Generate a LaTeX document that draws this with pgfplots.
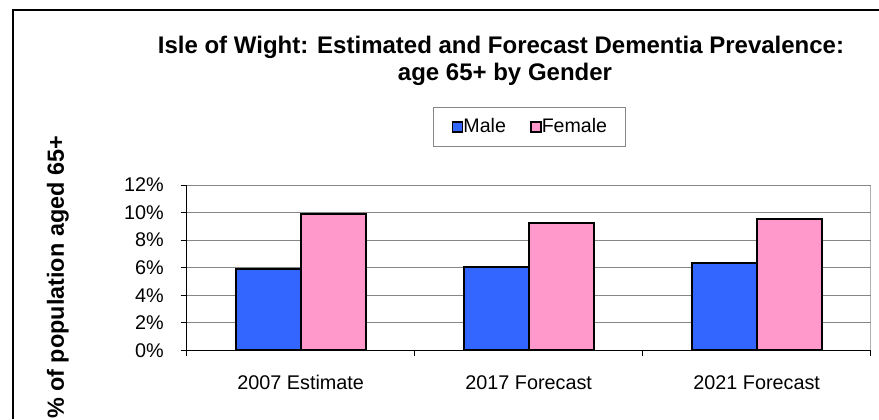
\documentclass[border=0pt]{standalone}
\usepackage{fontspec}
\setmainfont{Liberation Sans}
\usepackage{pgfplots}
\pgfplotsset{compat=1.18}
\definecolor{maleblue}{RGB}{51,102,255}
\definecolor{femalepink}{RGB}{255,153,204}
\definecolor{gridgray}{RGB}{134,134,134}

\begin{document}
\begin{tikzpicture}
\useasboundingbox (0,0) rectangle (439.5pt,209.5pt);
% outer frame (only top and left are visible)
\draw[line width=1pt] (6.35pt,0) -- (6.35pt,204.5pt) -- (439.5pt,204.5pt);

\begin{axis}[
    at={(93.35pt,34.35pt)}, anchor=south west,
    scale only axis, width=342pt, height=82.65pt,
    ybar=0pt, bar width=32.5pt,
    xmin=-0.5, xmax=2.5, ymin=0, ymax=12,
    xtick={-0.5,0.5,1.5,2.5}, xticklabels={},
    extra x ticks={0,1,2},
    extra x tick labels={2007 Estimate,2017 Forecast,2021 Forecast},
    extra x tick style={tick style={draw=none},
        xticklabel style={yshift=-6pt}},
    ytick={0,2,4,6,8,10,12},
    yticklabels={0\%,2\%,4\%,6\%,8\%,10\%,12\%},
    yticklabel style={xshift=-5pt},
    ymajorgrids, grid style={gridgray, line width=0.5pt},
    tick align=outside, major tick length=3pt,
    tick style={black, line width=0.5pt},
    axis x line*=bottom, axis y line*=left,
    axis line style={black, line width=0.6pt, -},
    tick label style={font=\fontsize{9.9}{12}\selectfont},
    legend style={at={(0.501,1.350)}, anchor=center, draw=gridgray,
        line width=0.5pt, legend columns=2,
        font=\fontsize{9.8}{12}\selectfont,
        inner xsep=9pt, inner ysep=4.5pt,
        nodes={inner xsep=0pt, inner ysep=1pt},
        /tikz/every even column/.append style={column sep=12pt}},
    legend image code/.code={%
        \draw[#1, draw=black, line width=0.9pt] (0.4pt,-2.6pt) rectangle (5.4pt,2.6pt);
    },
]
\addplot[draw=black, fill=maleblue, line width=1pt] coordinates {(0,5.88) (1,6.05) (2,6.34)};
\addlegendentry{Male}
\addplot[draw=black, fill=femalepink, line width=1pt] coordinates {(0,9.89) (1,9.22) (2,9.51)};
\addlegendentry{Female}
\draw[gridgray, line width=0.5pt] (rel axis cs:1,0) -- (rel axis cs:1,1);
\end{axis}

\node[anchor=base, font=\bfseries\fontsize{12}{14}\selectfont] at (250.5pt,182.85pt)
    {Isle of Wight: Estimated and Forecast Dementia Prevalence:};
\node[anchor=base, font=\bfseries\fontsize{12}{14}\selectfont] at (252.5pt,169.5pt)
    {age 65+ by Gender};
\node[rotate=90, font=\bfseries\fontsize{11.7}{14}\selectfont] at (29pt,70.75pt)
    {\% of population aged 65+};
\end{tikzpicture}
\end{document}
